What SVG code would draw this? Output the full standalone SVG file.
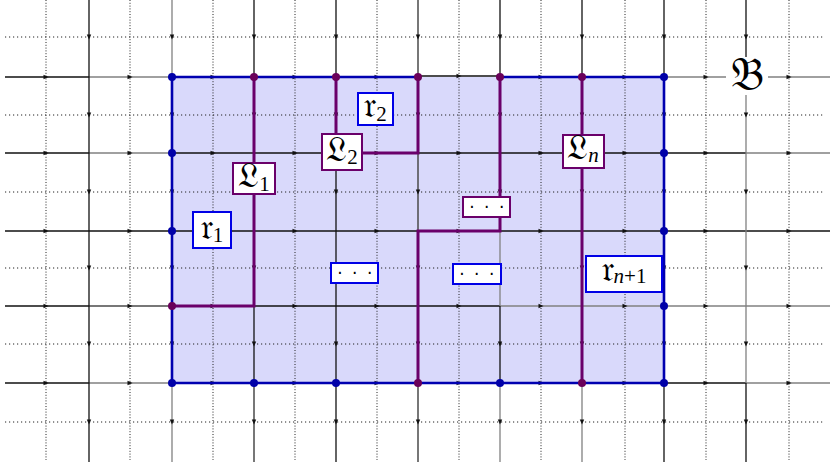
<svg xmlns="http://www.w3.org/2000/svg" width="831" height="462" viewBox="0 0 831 462">
<defs>
<marker id="a" viewBox="-3 -3 6 6" markerWidth="6" markerHeight="6" refX="0" refY="0" orient="auto" markerUnits="userSpaceOnUse"><path d="M-2.5,-2.2 L2.5,0 L-2.5,2.2 z" fill="#111"/></marker>
</defs>
<style>
.k{stroke:#111;stroke-width:1.3;fill:none;marker-mid:url(#a)}
.g{stroke:#808080;stroke-width:1.3;fill:none;marker-mid:url(#a)}
.d{stroke:#4a4a4a;stroke-width:1.5;fill:none;marker-mid:url(#a)}
.dh{stroke:#222;stroke-width:1;stroke-dasharray:1.2 2.8;fill:none}
.dv{stroke:#222;stroke-width:1;stroke-dasharray:1 1.8;fill:none}
.pp{stroke:#6a006a;stroke-width:3;fill:none;stroke-linejoin:miter}
.bd{fill:#0000a8}
.pd{fill:#6a005a}
.lb{fill:#fff;stroke:#6a006a;stroke-width:2}
.rb{fill:#fff;stroke:#0000e6;stroke-width:2}
.t{font-family:"DejaVu Serif","DejaVu Sans","Noto Sans",serif;font-size:35px;fill:#000;text-anchor:middle}
.s{font-family:"Liberation Serif","DejaVu Serif",serif;font-size:21px}
.i{font-style:italic}
.dots{font-family:"DejaVu Sans",sans-serif;font-size:17px;letter-spacing:9.5px;text-anchor:middle;fill:#000}
</style>
<rect width="831" height="462" fill="#fff"/>
<rect id="region" x="172" y="77" width="492" height="306" fill="#d9d9fb"/>
<g id="dotted">
<path class="dh" d="M5,37H825M5,115H825M5,192H825M5,268H825M5,344H825M5,422H825"/>
<path class="dv" d="M46,0V460M130,0V460M213,0V460M295,0V460M377,0V460M459,0V460M541,0V460M625,0V460M706,0V460M789,0V460"/>
</g>
<g id="connectors">
<path class="k" d="M5,77L46,77L89,77"/><path class="g" d="M89,77L130,77L172,77"/><path class="k" d="M172,77L213,77L254,77"/><path class="k" d="M254,77L295,77L336,77"/><path class="k" d="M336,77L377,77L418,77"/><path class="k" d="M418,76L459,76L500,76"/><path class="k" d="M500,77L541,77L582,77"/><path class="k" d="M582,77L625,77L664,77"/><path class="g" d="M664,77L706,77L746,77"/><path class="g" d="M746,77L789,77L830,77"/>
<path class="k" d="M5,153L46,153L89,153"/><path class="g" d="M89,153L130,153L172,153"/><path class="k" d="M172,153L213,153L254,153"/><path class="k" d="M254,153L295,153L336,153"/><path class="k" d="M336,153L377,153L418,153"/><path class="k" d="M418,153L459,153L500,153"/><path class="k" d="M500,153L541,153L582,153"/><path class="k" d="M582,153L625,153L664,153"/><path class="k" d="M664,153L706,153L746,153"/><path class="g" d="M746,153L789,153L830,153"/>
<path class="k" d="M5,231L46,231L89,231"/><path class="k" d="M89,231L130,231L172,231"/><path class="k" d="M172,231L213,231L254,231"/><path class="k" d="M254,231L295,231L336,231"/><path class="k" d="M336,231L377,231L418,231"/><path class="k" d="M418,231L459,231L500,231"/><path class="k" d="M500,231L541,231L582,231"/><path class="k" d="M582,231L625,231L664,231"/><path class="k" d="M664,231L706,231L746,231"/><path class="k" d="M746,231L789,231L830,231"/>
<path class="k" d="M5,306L46,306L89,306"/><path class="d" d="M89,306L130,306L172,306"/><path class="k" d="M172,306L213,306L254,306"/><path class="k" d="M254,306L295,306L336,306"/><path class="k" d="M336,306L377,306L418,306"/><path class="k" d="M418,306L459,306L500,306"/><path class="g" d="M500,306L541,306L582,306"/><path class="g" d="M582,306L625,306L664,306"/><path class="g" d="M664,306L706,306L746,306"/><path class="g" d="M746,306L789,306L830,306"/>
<path class="k" d="M5,383L46,383L89,383"/><path class="g" d="M89,383L130,383L172,383"/><path class="k" d="M172,383L213,383L254,383"/><path class="k" d="M254,383L295,383L336,383"/><path class="k" d="M336,383L377,383L418,383"/><path class="k" d="M418,383L459,383L500,383"/><path class="k" d="M500,383L541,383L582,383"/><path class="k" d="M582,383L625,383L664,383"/><path class="k" d="M664,383L706,383L746,383"/><path class="g" d="M746,383L789,383L830,383"/>
<path class="k" d="M89,0L89,37L89,77"/><path class="k" d="M89,77L89,115L89,153"/><path class="k" d="M89,153L89,192L89,231"/><path class="k" d="M89,231L89,268L89,306"/><path class="k" d="M89,306L89,344L89,383"/><path class="k" d="M89,383L89,422L89,462"/>
<path class="g" d="M172,0L172,37L172,77"/><path class="k" d="M172,77L172,115L172,153"/><path class="k" d="M172,153L172,192L172,231"/><path class="k" d="M172,231L172,268L172,306"/><path class="k" d="M172,306L172,344L172,383"/><path class="g" d="M172,383L172,422L172,462"/>
<path class="k" d="M254,0L254,37L254,77"/><path class="k" d="M254,77L254,115L254,153"/><path class="k" d="M254,153L254,192L254,231"/><path class="k" d="M254,231L254,268L254,306"/><path class="k" d="M254,306L254,344L254,383"/><path class="d" d="M254,383L254,422L254,462"/>
<path class="k" d="M336,0L336,37L336,77"/><path class="k" d="M336,77L336,115L336,153"/><path class="k" d="M336,153L336,192L336,231"/><path class="k" d="M336,231L336,268L336,306"/><path class="k" d="M336,306L336,344L336,383"/><path class="k" d="M336,383L336,422L336,462"/>
<path class="d" d="M418,0L418,37L418,77"/><path class="d" d="M418,77L418,115L418,153"/><path class="d" d="M418,153L418,192L418,231"/><path class="d" d="M418,231L418,268L418,306"/><path class="d" d="M418,306L418,344L418,383"/><path class="d" d="M418,383L418,422L418,462"/>
<path class="k" d="M500,0L500,37L500,77"/><path class="k" d="M500,77L500,115L500,153"/><path class="k" d="M500,153L500,192L500,231"/><path class="g" d="M500,231L500,268L500,306"/><path class="k" d="M500,306L500,344L500,383"/><path class="g" d="M500,383L500,422L500,462"/>
<path class="k" d="M582,0L582,37L582,77"/><path class="k" d="M582,77L582,115L582,153"/><path class="k" d="M582,153L582,192L582,231"/><path class="k" d="M582,231L582,268L582,306"/><path class="k" d="M582,306L582,344L582,383"/><path class="g" d="M582,383L582,422L582,462"/>
<path class="k" d="M664,0L664,37L664,77"/><path class="k" d="M664,77L664,115L664,153"/><path class="k" d="M664,153L664,192L664,231"/><path class="k" d="M664,231L664,268L664,306"/><path class="k" d="M664,306L664,344L664,383"/><path class="k" d="M664,383L664,422L664,462"/>
<path class="k" d="M746,0L746,37L746,77"/><path class="g" d="M746,77L746,115L746,153"/><path class="g" d="M746,153L746,192L746,231"/><path class="g" d="M746,231L746,268L746,306"/><path class="g" d="M746,306L746,344L746,383"/><path class="k" d="M746,383L746,422L746,462"/>
</g>
<g id="boundary">
<path d="M418,77H172V383H664V77H500" fill="none" stroke="#0000b0" stroke-width="2.6"/>
</g>
<g id="paths">
<path class="pp" d="M254,77V306H172"/>
<path class="pp" d="M336,77V153H418V77"/>
<path class="pp" d="M500,77V231H418V383"/>
<path class="pp" d="M582,77V383"/>
</g>
<g id="vertices">
<circle class="bd" cx="172" cy="77" r="4"/><circle class="bd" cx="172" cy="153" r="4"/><circle class="bd" cx="172" cy="231" r="4"/><circle class="bd" cx="172" cy="383" r="4"/><circle class="bd" cx="254" cy="383" r="4"/><circle class="bd" cx="336" cy="383" r="4"/><circle class="bd" cx="500" cy="383" r="4"/><circle class="bd" cx="664" cy="77" r="4"/><circle class="bd" cx="664" cy="153" r="4"/><circle class="bd" cx="664" cy="231" r="4"/><circle class="bd" cx="664" cy="306" r="4"/><circle class="bd" cx="664" cy="383" r="4"/>
<circle class="pd" cx="254" cy="77" r="4"/><circle class="pd" cx="336" cy="77" r="4"/><circle class="pd" cx="418" cy="77" r="4"/><circle class="pd" cx="500" cy="77" r="4"/><circle class="pd" cx="582" cy="77" r="4"/><circle class="pd" cx="172" cy="306" r="4"/><circle class="pd" cx="418" cy="383" r="4"/><circle class="pd" cx="582" cy="383" r="4"/>
</g>
<g id="label-L1"><rect class="lb" x="233" y="163" width="42" height="31"/><text class="t" x="254" y="187">𝔏<tspan class="s" dy="4">1</tspan></text></g>
<g id="label-L2"><rect class="lb" x="322" y="134" width="40" height="36"/><text class="t" x="342" y="161">𝔏<tspan class="s" dy="3">2</tspan></text></g>
<g id="label-Ln"><rect class="lb" x="563" y="135" width="41" height="33"/><text class="t" x="583" y="159">𝔏<tspan class="s i" dy="3">n</tspan></text></g>
<g id="label-r1"><rect class="rb" x="193" y="212" width="38" height="36"/><text class="t" x="212" y="239">𝔯<tspan class="s" dy="3">1</tspan></text></g>
<g id="label-r2"><rect class="rb" x="358" y="93" width="35" height="32"/><text class="t" x="375.5" y="117">𝔯<tspan class="s" dy="4">2</tspan></text></g>
<g id="label-rn1"><rect class="rb" x="586" y="256" width="76" height="36"/><text class="t" x="624" y="281">𝔯<tspan class="s i" dy="2">n</tspan><tspan class="s">+1</tspan></text></g>
<g id="dots-1"><rect class="rb" x="331" y="263" width="47" height="20"/><text class="dots" x="359.5" y="279">···</text></g>
<g id="dots-2"><rect class="rb" x="453" y="264" width="48" height="20"/><text class="dots" x="481.5" y="280">···</text></g>
<g id="dots-3"><rect class="lb" x="463" y="197" width="47" height="20"/><text class="dots" x="491.5" y="213">···</text></g>
<g id="label-B"><rect x="726" y="57" width="42" height="38" fill="#fff"/><text class="t" x="747" y="90" style="font-size:46px">𝔅</text></g>
</svg>
